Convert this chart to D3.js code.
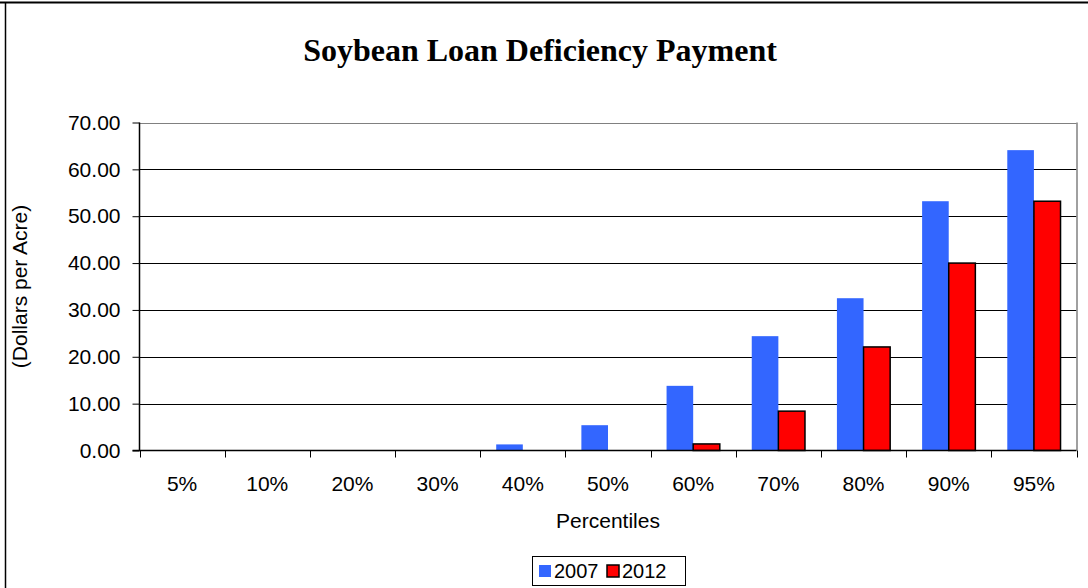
<!DOCTYPE html>
<html>
<head>
<meta charset="utf-8">
<script src="https://cdn.jsdelivr.net/npm/d3@7"></script>
<style>
  html, body { margin: 0; padding: 0; background: #fff; }
  svg { display: block; }
</style>
</head>
<body>
<svg id="chart" width="1088" height="588"></svg>
<script>
const categories = ["5%", "10%", "20%", "30%", "40%", "50%", "60%", "70%", "80%", "90%", "95%"];
const seriesNames = ["2007", "2012"];
const values2007 = [0, 0, 0, 0, 1.3, 5.4, 13.8, 24.4, 32.5, 53.2, 64.1];
const values2012 = [0, 0, 0, 0, 0, 0, 1.4, 8.4, 22.1, 40.0, 53.2];
const yTicks = [0, 10, 20, 30, 40, 50, 60, 70];
const colors = { "2007": "#3366FF", "2012": "#FF0000" };

const svg = d3.select("#chart");
const W = 1088, H = 588;
const plot = { left: 139.5, right: 1076.5, top: 122.5, bottom: 450.5 };
const SANS = "Liberation Sans, Arial, sans-serif";

// outer border (top and left visible)
svg.append("line").attr("x1", 0).attr("x2", W).attr("y1", 2.5).attr("y2", 2.5)
  .attr("stroke", "#000").attr("stroke-width", 2);
svg.append("line").attr("x1", 5.5).attr("x2", 5.5).attr("y1", 2).attr("y2", H)
  .attr("stroke", "#000").attr("stroke-width", 1.5);

const x0 = d3.scaleBand().domain(categories).range([plot.left, plot.right]).padding(0);
const x1 = d3.scaleBand().domain(seriesNames).range([0, x0.bandwidth()]).paddingInner(0).paddingOuter(0.6);
const y = d3.scaleLinear().domain([0, 70]).range([plot.bottom, plot.top]);

// gridlines
svg.append("g").selectAll("line").data(yTicks.filter(t => t > 0)).join("line")
  .attr("x1", plot.left).attr("x2", plot.right)
  .attr("y1", d => Math.round(y(d)) + 0.5).attr("y2", d => Math.round(y(d)) + 0.5)
  .attr("stroke", d => d === 70 ? "#808080" : "#000").attr("stroke-width", 1);

// right plot border
svg.append("line").attr("x1", plot.right + 0.5).attr("x2", plot.right + 0.5)
  .attr("y1", plot.top).attr("y2", plot.bottom).attr("stroke", "#808080").attr("stroke-width", 1.5);

// bars
const data = categories.map((c, i) => ({ cat: c, vals: [
  { s: "2007", v: values2007[i] }, { s: "2012", v: values2012[i] }] }));

const groups = svg.append("g").selectAll("g").data(data).join("g")
  .attr("transform", d => `translate(${x0(d.cat)},0)`);

groups.selectAll("rect").data(d => d.vals.filter(e => e.v > 0)).join("rect")
  .attr("x", d => x1(d.s))
  .attr("width", x1.bandwidth())
  .attr("y", d => y(d.v))
  .attr("height", d => y(0) - y(d.v))
  .attr("fill", d => colors[d.s])
  .attr("stroke", d => d.s === "2012" ? "#000" : "none")
  .attr("stroke-width", 1.5);

// y axis
const yAxis = d3.axisLeft(y).tickValues(yTicks).tickSize(7).tickPadding(12)
  .tickFormat(d3.format(".2f"));
const gy = svg.append("g").attr("transform", `translate(${plot.left},0)`).call(yAxis);
gy.select(".domain").attr("stroke", "#000").attr("stroke-width", 1.5)
  .attr("d", `M0,${plot.top}V${plot.bottom}`);
gy.selectAll(".tick line").attr("stroke", "#000");
gy.selectAll("text").attr("font-family", SANS)
  .attr("font-size", 21).attr("fill", "#000");

// x axis
const gx = svg.append("g").attr("transform", `translate(0,${plot.bottom})`);
gx.append("line").attr("x1", plot.left - 7).attr("x2", plot.right)
  .attr("y1", 0).attr("y2", 0).attr("stroke", "#000").attr("stroke-width", 1.5);
const boundaries = categories.map(c => x0(c)).concat([plot.right]);
gx.selectAll("line.tk").data(boundaries).join("line").attr("class", "tk")
  .attr("x1", d => Math.round(d) + 0.5).attr("x2", d => Math.round(d) + 0.5)
  .attr("y1", 0).attr("y2", 7).attr("stroke", "#000").attr("stroke-width", 1);
gx.selectAll("text").data(categories).join("text")
  .attr("x", d => x0(d) + x0.bandwidth() / 2)
  .attr("y", 40)
  .attr("text-anchor", "middle")
  .attr("font-family", SANS)
  .attr("font-size", 21).attr("fill", "#000")
  .text(d => d);

// axis titles
svg.append("text").attr("x", (plot.left + plot.right) / 2).attr("y", 528)
  .attr("text-anchor", "middle").attr("font-family", SANS)
  .attr("font-size", 21).text("Percentiles");
svg.append("text")
  .attr("transform", `translate(27,${(plot.top + plot.bottom) / 2}) rotate(-90)`)
  .attr("text-anchor", "middle").attr("font-family", SANS)
  .attr("font-size", 21).text("(Dollars per Acre)");

// title
svg.append("text").attr("x", 540).attr("y", 61)
  .attr("text-anchor", "middle").attr("font-family", "Liberation Serif, Times New Roman, serif")
  .attr("font-weight", "bold").attr("font-size", 32).text("Soybean Loan Deficiency Payment");

// legend
const leg = svg.append("g");
leg.append("rect").attr("x", 532.5).attr("y", 556.5).attr("width", 153).attr("height", 29)
  .attr("fill", "#fff").attr("stroke", "#000").attr("stroke-width", 1);
const items = leg.selectAll("g").data(seriesNames).join("g")
  .attr("transform", (d, i) => `translate(${539 + i * 68},565)`);
items.append("rect").attr("width", 12).attr("height", 12)
  .attr("fill", d => colors[d])
  .attr("stroke", d => d === "2012" ? "#000" : "none").attr("stroke-width", 1.5);
items.append("text").attr("x", 15).attr("y", 13)
  .attr("font-family", SANS)
  .attr("font-size", 20).text(d => d);
</script>
</body>
</html>
